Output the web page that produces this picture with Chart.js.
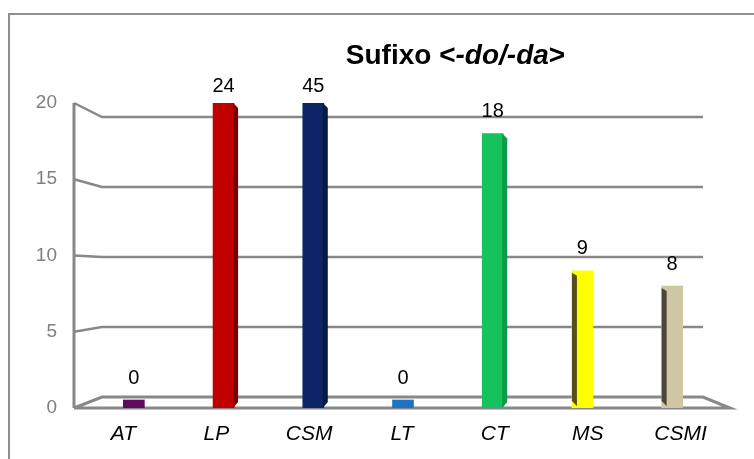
<!DOCTYPE html>
<html>
<head>
<meta charset="utf-8">
<script src="https://cdn.jsdelivr.net/npm/chart.js@4/dist/chart.umd.min.js"></script>
<style>
  html, body { margin: 0; padding: 0; background: #fff; }
  #wrap { position: relative; width: 754px; height: 459px; overflow: hidden; }
  #chart { position: absolute; left: 0; top: 0; }
  #title {
    position: absolute; left: 0; top: 40px; width: 911px; text-align: center;
    font: bold 28px "Liberation Sans", Arial, sans-serif; line-height: 30px;
    color: #000; white-space: nowrap; z-index: 2;
  }
</style>
</head>
<body>
<div id="wrap">
  <canvas id="chart" width="754" height="459"></canvas>
  <div id="title">Sufixo &lt;<i>-do/-da</i>&gt;</div>
</div>
<script>
const categories = ['AT', 'LP', 'CSM', 'LT', 'CT', 'MS', 'CSMI'];
const counts = [0, 24, 45, 0, 18, 9, 8];
const yTicks = [0, 5, 10, 15, 20];

const barColors = ['#5E0A5E', '#C00000', '#0B2566', '#1E74C0', '#16C25E', '#FFFF00', '#CEC7A1'];
const shadeColors = ['#3E063E', '#7A0000', '#061A48', '#145A96', '#0E9A48', '#55501A', '#4B4636'];

const FONT = '"Liberation Sans", Arial, sans-serif';

// Outer box, back wall gridlines, floor and the slanted tick connectors
const frame = {
  id: 'frame',
  beforeDraw(chart) {
    const c = chart.ctx;
    c.save();
    c.strokeStyle = '#8f8f8f';
    c.lineWidth = 2;
    c.strokeRect(9, 14, 800, 500);
    c.restore();
  },
  beforeDatasetsDraw(chart) {
    const { ctx, chartArea: a, scales: { y } } = chart;
    const axisX = a.left - 15, depthX = 28, backRight = a.right - 14, frontRight = a.right + 13;
    const back = v => a.bottom - 11 + (y.getPixelForValue(v) - a.bottom) * 0.918;
    ctx.save();
    ctx.strokeStyle = '#888888';
    ctx.lineJoin = 'miter';
    yTicks.forEach(v => {
      const f = y.getPixelForValue(v), b = back(v);
      ctx.lineWidth = v === 0 ? 3 : 2.4;
      ctx.beginPath();
      ctx.moveTo(axisX, f);
      ctx.lineTo(axisX + depthX, b);
      ctx.lineTo(backRight, b);
      if (v === 0) {
        ctx.lineTo(frontRight, f);
        ctx.lineTo(axisX, f);
      }
      ctx.stroke();
    });
    ctx.lineWidth = 3;
    ctx.beginPath();
    ctx.moveTo(axisX, y.getPixelForValue(20));
    ctx.lineTo(axisX, a.bottom);
    ctx.stroke();
    ctx.restore();
  }
};

// Side faces that give the columns their depth
const bars3d = {
  id: 'bars3d',
  afterDatasetsDraw(chart) {
    const { ctx, chartArea: a } = chart;
    const meta = chart.getDatasetMeta(0);
    ctx.save();
    meta.data.forEach((bar, i) => {
      if (counts[i] === 0) return;
      const top = Math.max(bar.y, a.top), base = bar.base, half = bar.width / 2;
      const left = bar.x - half, right = bar.x + half;
      ctx.fillStyle = shadeColors[i];
      if (i < 5) {
        ctx.beginPath();
        ctx.moveTo(right - 1, top);
        ctx.lineTo(right + 4, top + 5);
        ctx.lineTo(right + 4, base - 6);
        ctx.lineTo(right - 1, base);
        ctx.closePath();
        ctx.fill();
      } else {
        ctx.beginPath();
        ctx.moveTo(left, top + 2);
        ctx.lineTo(left + 5, top + 5);
        ctx.lineTo(left + 5, base - 2);
        ctx.lineTo(left, base - 7);
        ctx.closePath();
        ctx.fill();
      }
    });
    ctx.restore();
  }
};

// Value labels over the columns and category names under the floor
const labels = {
  id: 'labels',
  afterDatasetsDraw(chart) {
    const { ctx, chartArea: a, scales: { x } } = chart;
    const meta = chart.getDatasetMeta(0);
    ctx.save();
    ctx.textAlign = 'center';
    ctx.textBaseline = 'middle';
    ctx.fillStyle = '#000';
    ctx.font = '20px ' + FONT;
    meta.data.forEach((bar, i) => {
      const ly = bar.y < a.top ? a.top - 17 : bar.y - 22;
      ctx.fillText(String(counts[i]), bar.x, ly);
    });
    ctx.font = 'italic 21px ' + FONT;
    const mid = (a.left + a.right) / 2;
    categories.forEach((c, i) => {
      const cx = x.getPixelForValue(i);
      ctx.fillText(c, mid + (cx - mid) * 1.035 - 1, a.bottom + 26);
    });
    ctx.restore();
  }
};

new Chart(document.getElementById('chart'), {
  type: 'bar',
  data: {
    labels: categories,
    datasets: [{
      data: counts,
      backgroundColor: barColors,
      borderWidth: 0,
      barThickness: 21,
      minBarLength: 8
    }]
  },
  options: {
    responsive: false,
    animation: false,
    layout: { padding: { left: 9, right: 37, top: 103, bottom: 0 } },
    plugins: { legend: { display: false }, title: { display: false }, tooltip: { enabled: false } },
    scales: {
      x: {
        grid: { display: false, drawTicks: false },
        border: { display: false },
        ticks: { display: false },
        afterFit(s) { s.height = 51; }
      },
      y: {
        min: 0, max: 20,
        grid: { display: false, drawTicks: false },
        border: { display: false },
        ticks: { stepSize: 5, padding: 32, color: '#808080', font: { family: FONT, size: 19 } },
        afterFit(s) { s.width = 80; }
      }
    }
  },
  plugins: [frame, bars3d, labels]
});
</script>
</body>
</html>
